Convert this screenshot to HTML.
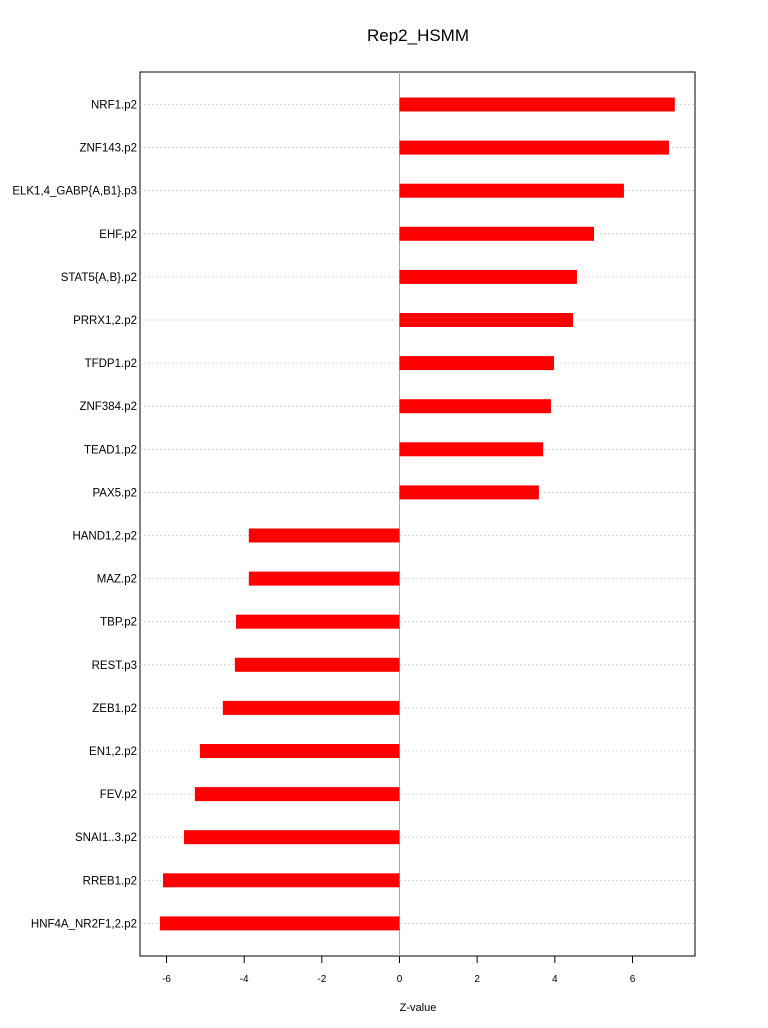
<!DOCTYPE html>
<html><head><meta charset="utf-8"><style>
body{margin:0;background:#fff;}
svg{display:block;font-family:"Liberation Sans",sans-serif;}
</style></head><body>
<svg id="chart" width="768" height="1028">
<text x="418" y="41" font-size="17" text-anchor="middle">Rep2_HSMM</text>
<rect x="140" y="72" width="555" height="884" fill="none" stroke="#000"/>
<text x="418" y="1011" font-size="11" text-anchor="middle">Z-value</text>
</svg>
<script>
const categories=["NRF1.p2","ZNF143.p2","ELK1,4_GABP{A,B1}.p3","EHF.p2","STAT5{A,B}.p2","PRRX1,2.p2","TFDP1.p2","ZNF384.p2","TEAD1.p2","PAX5.p2","HAND1,2.p2","MAZ.p2","TBP.p2","REST.p3","ZEB1.p2","EN1,2.p2","FEV.p2","SNAI1..3.p2","RREB1.p2","HNF4A_NR2F1,2.p2"];
const values=[7.09,6.94,5.78,5.01,4.57,4.47,3.98,3.90,3.70,3.59,-3.88,-3.88,-4.21,-4.24,-4.55,-5.14,-5.27,-5.55,-6.09,-6.17];
const xTicks=[-6,-4,-2,0,2,4,6];
const svg=document.getElementById('chart');
const NS='http://www.w3.org/2000/svg';
const x=v=>399.5+v*38.83;
const y=i=>104.5+i*43.1;
function mk(t,a){const e=document.createElementNS(NS,t);for(const k in a)e.setAttribute(k,a[k]);svg.appendChild(e);return e;}
categories.forEach((c,i)=>{
  const g=mk('line',{x1:140,x2:695,y1:y(i),y2:y(i),stroke:'#ccc','stroke-dasharray':'2,2','stroke-width':0.8});
  
  
});
const zl=mk('line',{x1:x(0),x2:x(0),y1:72,y2:956,stroke:'#aaa'});


categories.forEach((c,i)=>{
  const v=values[i];
  const b=mk('rect',{x:Math.min(x(0),x(v)),y:y(i)-7,width:Math.abs(x(v)-x(0)),height:14,fill:'#ff0000'});
  
  
  const t=mk('text',{x:137,y:y(i)+4,'font-size':11.5,'text-anchor':'end'});
  t.textContent=c;
  
  
});
xTicks.forEach(v=>{
  const tk=mk('line',{x1:x(v),x2:x(v),y1:956,y2:963,stroke:'#000'});
  
  
  const t=mk('text',{x:x(v),y:982,'font-size':10,'text-anchor':'middle'});
  t.textContent=v;
  
  
});
</script>
</body></html>
